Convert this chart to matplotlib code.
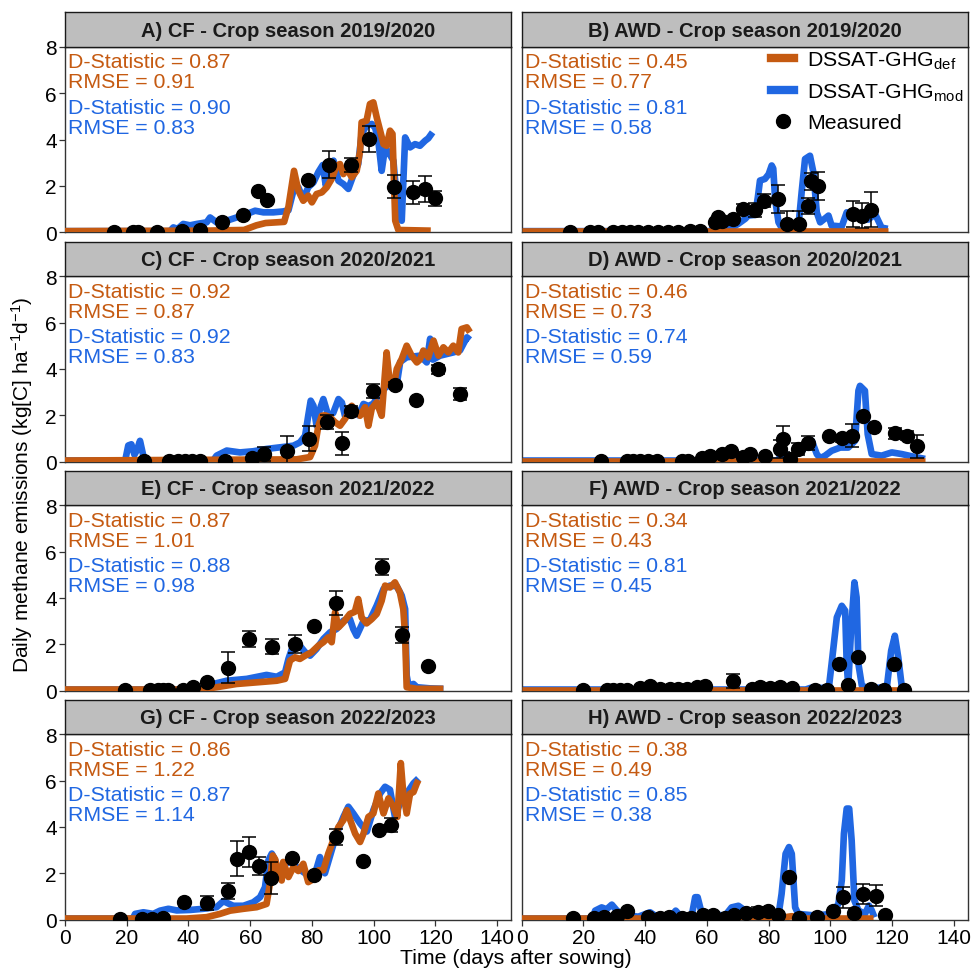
import matplotlib
matplotlib.use('Agg')
import matplotlib.pyplot as plt
from matplotlib.lines import Line2D

plt.rcParams['font.family'] = ['Liberation Sans', 'DejaVu Sans']
plt.rcParams['mathtext.fontset'] = 'custom'
plt.rcParams['mathtext.rm'] = 'Liberation Sans'
plt.rcParams['mathtext.it'] = 'Liberation Sans:italic'
plt.rcParams['mathtext.bf'] = 'Liberation Sans:bold'

ORANGE = '#C55A11'
BLUE = '#2067E2'

# ---------------- data ----------------
titles = ["A) CF - Crop season 2019/2020", "B) AWD - Crop season 2019/2020",
          "C) CF - Crop season 2020/2021", "D) AWD - Crop season 2020/2021",
          "E) CF - Crop season 2021/2022", "F) AWD - Crop season 2021/2022",
          "G) CF - Crop season 2022/2023", "H) AWD - Crop season 2022/2023"]
d_def = [0.87, 0.45, 0.92, 0.46, 0.87, 0.34, 0.86, 0.38]
rmse_def = [0.91, 0.77, 0.87, 0.73, 1.01, 0.43, 1.22, 0.49]
d_mod = [0.90, 0.81, 0.92, 0.74, 0.88, 0.81, 0.87, 0.85]
rmse_mod = [0.83, 0.58, 0.83, 0.59, 0.98, 0.45, 1.14, 0.38]

# Panel A
a_def_x = [0, 45, 58, 60, 62, 65, 71, 72.4, 74.2, 75.6, 77.2, 78.8, 80, 81.5, 83.2, 84.8, 86.4, 88, 89.1, 90.2,
           91.3, 92.9, 94.5, 95.6, 96.1, 97.7, 98.8, 99.9, 101, 102.1, 103.2, 104.2, 105.3, 106.1, 107, 108, 118.5]
a_def_y = [0.05, 0.07, 0.1, 0.2, 0.3, 0.4, 0.45, 1.1, 2.65, 1.8, 1.36, 1.58, 1.29, 1.65, 1.72, 1.94, 2.3, 2.87, 2.94, 2.51,
           2.75, 2.37, 2.65, 3.5, 4.74, 4.81, 5.53, 5.6, 4.95, 4.38, 3.8, 3.73, 4.38, 4.24, 0.5, 0.1, 0.07]
a_mod_x = [0, 34, 35.1, 36.5, 38.3, 40.5, 42.7, 45.9, 47, 49.1, 52.4, 55.6, 58.9, 61.6, 64.3, 67.5, 70.7, 72.4, 74, 75.6,
           77.2, 78.8, 80.5, 82.1, 83.5, 84.5, 85.9, 87, 88.6, 90.2, 91.8, 93.4, 95, 96.1, 97.7, 99.4, 100.5, 101.5, 102.6, 103.7,
           104.8, 106.4, 108, 109.1, 110.2, 111.8, 113.4, 115, 116.7, 117.7, 119.1]
a_mod_y = [0.05, 0.05, 0.21, 0.15, 0.36, 0.3, 0.36, 0.43, 0.64, 0.43, 0.5, 0.64, 0.79, 0.93, 0.86, 0.86, 0.9, 0.95, 1.79, 1.94,
           1.43, 1.94, 2.15, 2.6, 2.9, 2.0, 2.51, 3.09, 2.22, 2.08, 1.87, 2.45, 2.94, 4.24, 4.6, 4.67, 4.5, 3.95, 2.65, 3.66,
           3.45, 3.09, 0.64, 0.5, 4.09, 3.66, 3.8, 3.73, 3.95, 4.05, 4.31]
a_obs_x = [16.0, 22.1, 23.8, 29.9, 37.8, 43.7, 50.8, 57.8, 62.6, 65.6, 78.8, 85.6, 92.7, 98.6, 106.7, 112.9, 116.7, 119.9]
a_obs_y = [0.02, 0.02, 0.02, 0.02, 0.05, 0.1, 0.43, 0.74, 1.77, 1.41, 2.25, 2.92, 2.92, 4.02, 1.97, 1.72, 1.87, 1.46]
a_obs_e = [0, 0, 0, 0, 0, 0, 0, 0, 0, 0, 0, 0.57, 0.3, 0.55, 0.5, 0.5, 0.55, 0.33]

# Panel B
b_def_x = [0, 118.8]
b_def_y = [0.05, 0.05]
b_mod_x = [0, 61, 62.6, 64, 66, 68, 70, 72.4, 73.4, 75.6, 76.5, 77.2, 78.8, 80, 81, 81.5, 82.1, 83.2, 84.2, 89.6,
           90.7, 91.8, 93.4, 94.5, 95.6, 96.7, 98.3, 99.4, 100.4, 103.7, 105.3, 107, 108.5, 110.2, 112.3, 114.5, 116.6, 118.6]
b_mod_y = [0.05, 0.05, 0.25, 0.15, 0.3, 0.2, 0.35, 0.58, 0.72, 0.75, 1.5, 2.23, 2.3, 2.5, 2.88, 2.75, 1.44, 0.43, 0.2, 0.2,
           1.73, 3.16, 3.3, 2.59, 0.86, 0.43, 0.6, 0.72, 0.29, 0.25, 0.86, 0.7, 0.86, 0.55, 0.55, 0.79, 0.2, 0.15]
b_obs_x = [15.7, 22.1, 24.8, 29.7, 32.4, 35.1, 37.8, 41.0, 44.3, 47.5, 50.8, 54.5, 57.8, 62.6, 63.7, 64.8, 68.6, 71.6,
           75.6, 78.6, 83.0, 85.9, 89.9, 92.9, 93.7, 96.1, 107.5, 110.2, 113.2]
b_obs_y = [0.02, 0.02, 0.02, 0.02, 0.02, 0.02, 0.02, 0.02, 0.02, 0.02, 0.02, 0.06, 0.06, 0.43, 0.65, 0.5, 0.58, 1.0,
           0.98, 1.37, 1.44, 0.36, 0.36, 1.12, 2.19, 1.99, 0.79, 0.72, 0.97]
b_obs_e = [0, 0, 0, 0, 0, 0, 0, 0, 0, 0, 0, 0, 0, 0, 0, 0, 0, 0.2,
           0.3, 0.3, 0.6, 0.55, 0.55, 0.35, 0.35, 0.6, 0.55, 0.55, 0.75]

# Panel C
c_def_x = [0, 75, 79.4, 81, 82.1, 83.2, 84.3, 85.9, 87.5, 89.1, 90.7, 91.8, 92.9, 94, 95.6, 97.2, 98.3, 99.4, 101, 102.6,
           104.2, 105.3, 106.4, 107.5, 109.1, 110.7, 112.3, 114, 115, 116.1, 117.7, 119.4, 121, 122.6, 124.2, 125.8, 127.4, 128.5, 130.2, 131.2]
c_def_y = [0.05, 0.1, 0.2, 0.69, 1.55, 1.98, 2.0, 1.91, 1.7, 1.55, 1.84, 2.1, 2.41, 2.2, 1.98, 2.35, 1.55, 2.3, 2.56, 1.98,
           4.71, 3.28, 3.2, 4.0, 4.43, 5.0, 4.57, 4.28, 4.4, 4.79, 4.5, 5.22, 4.57, 4.93, 4.71, 5.0, 4.71, 5.72, 5.79, 5.58]
c_mod_x = [0, 19.5, 20.5, 21.5, 22.5, 23.3, 24.3, 25.3, 26, 48, 49.1, 52.4, 56.7, 61, 65.3, 69.7, 74, 76.1, 77.8, 78.8,
           79.6, 80.5, 81.5, 82.6, 83.7, 85.3, 86.9, 88.6, 89.7, 90.7, 92.4, 94, 95.1, 96.7, 98.3, 99.9, 101.5, 103.2, 105, 107.5,
           108.6, 110.7, 115, 117.2, 118.3, 119.2, 121.5, 125.8, 128, 130.2, 131.2]
c_mod_y = [0.05, 0.05, 0.7, 0.75, 0.3, 0.5, 0.9, 0.3, 0.05, 0.05, 0.26, 0.48, 0.4, 0.45, 0.55, 0.62, 0.69, 0.83, 1.12, 1.98,
           2.63, 2.41, 1.55, 2.27, 2.7, 1.98, 2.1, 2.7, 2.55, 1.98, 2.0, 2.27, 2.0, 2.49, 2.4, 2.5, 2.85, 3.13, 3.3, 3.35,
           4.3, 4.5, 4.57, 4.28, 5.3, 4.4, 4.57, 4.71, 4.8, 5.36, 5.25]
c_obs_x = [25.7, 33.8, 36.7, 38.9, 41.0, 43.7, 51.8, 60.7, 64.6, 71.8, 78.9, 84.8, 89.6, 92.7, 99.7, 106.9, 113.7, 120.8, 128.0]
c_obs_y = [0.02, 0.02, 0.02, 0.02, 0.02, 0.02, 0.04, 0.18, 0.33, 0.47, 1.0, 1.72, 0.79, 2.19, 3.06, 3.32, 2.67, 3.98, 2.91]
c_obs_e = [0, 0, 0, 0, 0, 0, 0, 0, 0.3, 0.65, 0.55, 0.3, 0.5, 0.2, 0.3, 0.1, 0, 0.2, 0.25]

# Panel D
d_def_x = [0, 130.7]
d_def_y = [0.05, 0.05]
d_mod_x = [0, 83, 84.2, 87.5, 90.7, 94, 95.6, 96.7, 98.3, 100.4, 103.2, 105.8, 108, 109.1, 109.6, 111.2, 112.1, 113.4,
           116.6, 119.9, 123.1, 127.5, 130.7]
d_mod_y = [0.05, 0.05, 0.33, 0.26, 0.47, 0.9, 0.33, 0.15, 0.26, 0.47, 0.61, 0.61, 0.9, 3.06, 3.27, 3.06, 1.19, 0.33,
           0.26, 0.4, 0.33, 0.2, 0.12]
d_obs_x = [25.7, 34.0, 36.2, 38.3, 41.0, 43.7, 51.8, 54.0, 58.3, 61.0, 64.8, 67.8, 71.8, 74.0, 78.8, 83.7, 84.6, 87.0,
           89.6, 92.9, 99.6, 103.7, 107.0, 110.7, 114.0, 120.8, 124.7, 128.0]
d_obs_y = [0.03, 0.03, 0.03, 0.03, 0.03, 0.03, 0.03, 0.03, 0.18, 0.25, 0.33, 0.47, 0.21, 0.33, 0.25, 0.54, 0.97, 0.11,
           0.54, 0.79, 1.12, 1.02, 1.12, 1.98, 1.51, 1.22, 1.12, 0.66]
d_obs_e = [0, 0, 0, 0, 0, 0, 0, 0, 0, 0, 0, 0, 0, 0, 0, 0.4, 0.55, 0,
           0.25, 0.3, 0, 0.15, 0.5, 0, 0, 0.25, 0.2, 0.5]

# Panel E
e_def_x = [0, 44, 49.1, 55.6, 62.1, 68.6, 71.3, 72.9, 74.5, 76.1, 77.8, 79.9, 82.1, 83.7, 85.3, 86.4, 87.5, 88.6, 90.2, 92.3,
           93.9, 95, 96.1, 97.7, 99.4, 101, 102.6, 103.7, 105.3, 106.9, 108.5, 109.6, 110.2, 110.7, 114, 122.6]
e_def_y = [0.05, 0.05, 0.15, 0.29, 0.36, 0.43, 0.51, 1.3, 1.44, 1.37, 1.51, 1.66, 1.94, 2.09, 2.3, 2.09, 3.38, 2.73, 2.95, 3.31,
           3.4, 3.95, 3.16, 2.9, 3.09, 3.31, 3.88, 4.53, 4.45, 4.67, 4.24, 3.52, 2.37, 0.15, 0.08, 0.08]
e_mod_x = [0, 43.7, 45.9, 52.4, 58.9, 65.3, 68.6, 71.3, 72.4, 73.5, 76.1, 77.8, 79.4, 81.5, 83.7, 85.9, 88, 90.2, 92.3, 93.4,
           94.5, 96.7, 98.8, 101, 103.2, 105.3, 107.5, 109.1, 110.2, 110.7, 111.3, 112.9, 114, 118.3, 122.6]
e_mod_y = [0.05, 0.05, 0.22, 0.43, 0.51, 0.68, 0.6, 0.79, 1.37, 1.8, 1.94, 1.66, 1.51, 1.8, 2.23, 2.52, 2.66, 3.02, 3.09, 2.66,
           2.37, 3.0, 3.05, 3.67, 4.39, 4.53, 4.5, 4.1, 3.52, 0.65, 0.22, 0.29, 0.15, 0.1, 0.08]
e_obs_x = [19.4, 27.5, 30.2, 31.9, 33.5, 38.3, 41.6, 45.9, 52.7, 59.7, 67.0, 74.5, 80.7, 87.7, 102.8, 109.1, 117.7]
e_obs_y = [0.02, 0.02, 0.02, 0.02, 0.02, 0.03, 0.17, 0.36, 1.0, 2.23, 1.9, 2.01, 2.77, 3.78, 5.32, 2.41, 1.05]
e_obs_e = [0, 0, 0, 0, 0, 0, 0, 0, 0.67, 0.33, 0.33, 0.4, 0, 0.5, 0.35, 0.35, 0]

# Panel F
f_def_x = [0, 124.2]
f_def_y = [0.05, 0.05]
f_mod_x = [0, 92, 93.5, 99.5, 100.4, 102.1, 103.7, 104.8, 105.3, 105.8, 106.7, 107.8, 108.5, 109.1, 110.2, 112.3,
           118.3, 119.7, 120.9, 122, 123.1, 124.2]
f_mod_y = [0.05, 0.05, 0.12, 0.12, 1.15, 3.16, 3.66, 3.45, 1.15, 0.22, 2.59, 4.67, 4.02, 1.15, 0.22, 0.1,
           0.15, 1.72, 2.37, 1.44, 0.22, 0.05]
f_obs_x = [20.0, 27.5, 29.7, 31.9, 34.0, 38.3, 41.6, 44.8, 48.0, 50.8, 53.5, 56.7, 59.4, 68.6, 74.5, 77.2, 80.5, 83.7,
           87.5, 95.1, 98.8, 102.8, 105.8, 108.8, 113.2, 117.5, 120.6, 123.7]
f_obs_y = [0.02, 0.02, 0.02, 0.02, 0.02, 0.1, 0.2, 0.06, 0.06, 0.06, 0.06, 0.14, 0.2, 0.43, 0.06, 0.17, 0.1, 0.17,
           0.1, 0.02, 0.02, 1.15, 0.26, 1.44, 0.06, 0.02, 1.15, 0.02]
f_obs_e = [0, 0, 0, 0, 0, 0, 0, 0, 0, 0, 0, 0, 0.1, 0.3, 0, 0, 0, 0,
           0, 0, 0, 0, 0, 0, 0, 0, 0, 0]

# Panel G
g_def_x = [0, 39.4, 45.9, 50.2, 53.5, 57.8, 62.1, 65.3, 66.4, 67.3, 68.1, 69.1, 70.2, 70.7, 72.4, 74, 75.6, 77.2, 78.8, 80.5,
           82.1, 83.7, 85.3, 86.9, 88.6, 90.2, 91.3, 92.4, 94, 95.6, 96.7, 98.3, 99.9, 101.5, 103.2, 104.8, 106.4, 107.7, 108.8, 109.6,
           110.7, 111.8, 112.9, 114, 114.5]
g_def_y = [0.05, 0.05, 0.11, 0.25, 0.39, 0.47, 0.54, 0.68, 1.55, 2.77, 2.6, 1.98, 1.69, 2.49, 1.84, 2.27, 2.1, 2.41, 1.62, 1.75,
           2.13, 2.13, 2.85, 3.42, 4.0, 4.29, 4.72, 4.3, 3.71, 3.35, 3.71, 4.43, 4.58, 5.44, 4.58, 5.23, 4.87, 4.43, 6.75, 5.44,
           4.58, 5.44, 5.5, 5.88, 6.02]
g_mod_x = [0, 22, 22.7, 25.4, 28.6, 30.8, 33.5, 36.2, 40.5, 44.8, 49.1, 51.3, 54.5, 57.8, 61, 63.2, 64.8, 65.9, 67, 68.1,
           69.7, 71.3, 73.4, 75.6, 77.8, 79.9, 81.5, 82.6, 84.2, 86.4, 88, 90.2, 91.8, 93.4, 95.6, 97.8, 99.9, 102.1, 103.7, 105.3,
           106.9, 108.5, 110.7, 112.9, 114.5]
g_mod_y = [0.05, 0.05, 0.25, 0.32, 0.25, 0.39, 0.47, 0.4, 0.42, 0.47, 0.54, 0.8, 0.6, 0.6, 0.75, 0.97, 1.4, 2.56, 2.85, 2.56,
           1.84, 2.42, 2.5, 2.2, 2.0, 1.84, 2.2, 2.7, 2.0, 2.99, 3.71, 4.43, 4.87, 4.58, 4.15, 3.8, 4.72, 5.44, 5.73, 5.6,
           4.43, 5.01, 5.44, 5.88, 6.09]
g_obs_x = [17.8, 24.8, 28.1, 31.6, 38.7, 45.9, 52.9, 55.8, 59.7, 62.9, 66.8, 73.7, 80.7, 87.7, 96.7, 101.8, 105.6]
g_obs_y = [0.03, 0.03, 0.03, 0.07, 0.78, 0.71, 1.23, 2.63, 2.92, 2.31, 1.79, 2.66, 1.91, 3.56, 2.51, 3.85, 4.07]
g_obs_e = [0, 0, 0, 0, 0, 0.3, 0.35, 0.75, 0.65, 0.4, 0.7, 0, 0, 0.35, 0, 0, 0.3]

# Panel H
h_def_x = [0, 84, 86, 87.5, 89, 91, 114]
h_def_y = [0.05, 0.05, 0.12, 0.15, 0.1, 0.05, 0.05]
h_mod_x = [0, 23, 23.8, 25.9, 27.5, 29.2, 30.8, 32.4, 34.6, 37.8, 41.6, 43.2, 48.6, 49.9, 51.3, 55.1, 56.2, 57, 58.1, 59.9,
           65.9, 68, 70.2, 71.8, 73.4, 83.2, 84.2, 85.5, 86.6, 87.5, 88.6, 89.6, 95.1, 100.4, 102.6, 103.7, 104.4, 105.3, 106.1, 106.9,
           107.8, 109.1, 111.2, 112.5, 113.4, 114.3]
h_mod_y = [0.05, 0.05, 0.39, 0.53, 0.45, 0.65, 0.4, 0.25, 0.18, 0.13, 0.32, 0.18, 0.18, 0.39, 0.18, 0.18, 0.97, 0.97, 0.39, 0.25,
           0.18, 0.53, 0.6, 0.45, 0.18, 0.2, 1.11, 2.84, 3.13, 2.84, 0.53, 0.25, 0.18, 0.25, 0.68, 1.69, 3.71, 4.79, 4.79, 3.42,
           0.82, 0.4, 0.25, 0.61, 0.4, 0.1]
h_obs_x = [16.7, 23.5, 26.8, 30.8, 34.0, 40.8, 44.8, 47.8, 51.8, 54.9, 58.9, 62.1, 65.9, 68.8, 72.6, 76.7, 79.9, 83.2,
           86.7, 89.9, 95.8, 101.0, 104.0, 107.8, 110.7, 114.7, 117.7]
h_obs_y = [0.07, 0.07, 0.13, 0.17, 0.36, 0.1, 0.07, 0.1, 0.07, 0.07, 0.22, 0.22, 0.07, 0.22, 0.28, 0.35, 0.39, 0.22,
           1.83, 0.07, 0.1, 0.39, 0.97, 0.29, 1.11, 1.04, 0.22]
h_obs_e = [0, 0, 0, 0, 0, 0, 0, 0, 0, 0, 0, 0, 0, 0, 0, 0.2, 0, 0,
           0, 0, 0, 0, 0.45, 0, 0.45, 0.45, 0]

x_ticks = [0, 20, 40, 60, 80, 100, 120, 140]
y_ticks = [0, 2, 4, 6, 8]

panels = [
    (a_def_x, a_def_y, a_mod_x, a_mod_y, a_obs_x, a_obs_y, a_obs_e),
    (b_def_x, b_def_y, b_mod_x, b_mod_y, b_obs_x, b_obs_y, b_obs_e),
    (c_def_x, c_def_y, c_mod_x, c_mod_y, c_obs_x, c_obs_y, c_obs_e),
    (d_def_x, d_def_y, d_mod_x, d_mod_y, d_obs_x, d_obs_y, d_obs_e),
    (e_def_x, e_def_y, e_mod_x, e_mod_y, e_obs_x, e_obs_y, e_obs_e),
    (f_def_x, f_def_y, f_mod_x, f_mod_y, f_obs_x, f_obs_y, f_obs_e),
    (g_def_x, g_def_y, g_mod_x, g_mod_y, g_obs_x, g_obs_y, g_obs_e),
    (h_def_x, h_def_y, h_mod_x, h_mod_y, h_obs_x, h_obs_y, h_obs_e),
]

# ---------------- layout ----------------
W, H = 971, 970
fig = plt.figure(figsize=(W / 100, H / 100), dpi=100)
col_x0 = [65, 521.7]
col_w = 446
row_bottom = [233.3, 462.7, 691.7, 920.7]
plot_h = 185.6
strip_h = 34.4
LW = 4.8

for i, (dx, dy, mx, my, ox, oy, oe) in enumerate(panels):
    r, c = divmod(i, 2)
    x0 = col_x0[c]
    yb = row_bottom[r]
    ax = fig.add_axes([x0 / W, 1 - yb / H, col_w / W, plot_h / H])
    sax = fig.add_axes([x0 / W, 1 - (yb - plot_h) / H, col_w / W, strip_h / H])

    # strip
    sax.set_facecolor('#BEBEBE')
    sax.set_xticks([])
    sax.set_yticks([])
    for s in sax.spines.values():
        s.set_color('#1a1a1a')
        s.set_linewidth(1.0)
    sax.text(0.5, 0.47, titles[i], transform=sax.transAxes, ha='center', va='center',
             fontsize=14.5, fontweight='bold', color='#1a1a1a')

    # data
    ax.plot(mx, my, color=BLUE, lw=LW, solid_joinstyle='round', solid_capstyle='butt', zorder=2)
    ax.plot(dx, dy, color=ORANGE, lw=LW, solid_joinstyle='round', solid_capstyle='butt', zorder=3)
    ax.errorbar(ox, oy, yerr=oe, fmt='o', color='black', ms=10, capsize=5,
                elinewidth=1.1, capthick=1.1, zorder=4)

    ax.set_xlim(0, 144.5)
    ax.set_ylim(0, 8)
    ax.set_xticks(x_ticks)
    ax.set_yticks(y_ticks)
    ax.tick_params(axis='both', labelsize=15, length=4, width=0.9, color='#333333',
                   labelcolor='black', pad=2)
    if c != 0:
        ax.tick_params(axis='y', left=False, labelleft=False)
    if r != 3:
        ax.tick_params(axis='x', bottom=False, labelbottom=False)
    for s in ax.spines.values():
        s.set_color('#333333')
        s.set_linewidth(1.0)

    # statistics text
    ax.text(0.007, 0.889, f"D-Statistic = {d_def[i]:.2f}", transform=ax.transAxes,
            color=ORANGE, fontsize=15.3, va='baseline', ha='left')
    ax.text(0.007, 0.781, f"RMSE = {rmse_def[i]:.2f}", transform=ax.transAxes,
            color=ORANGE, fontsize=15.3, va='baseline', ha='left')
    ax.text(0.007, 0.643, f"D-Statistic = {d_mod[i]:.2f}", transform=ax.transAxes,
            color=BLUE, fontsize=15.3, va='baseline', ha='left')
    ax.text(0.007, 0.535, f"RMSE = {rmse_mod[i]:.2f}", transform=ax.transAxes,
            color=BLUE, fontsize=15.3, va='baseline', ha='left')

    if i == 1:
        handles = [Line2D([], [], color=ORANGE, lw=6),
                   Line2D([], [], color=BLUE, lw=6),
                   Line2D([], [], color='black', marker='o', ms=10, linestyle='none')]
        labels = ['DSSAT-GHG$_{\\mathrm{def}}$', 'DSSAT-GHG$_{\\mathrm{mod}}$', 'Measured']
        ax.legend(handles, labels, loc='upper right', frameon=False, fontsize=15.3,
                  handlelength=1.1, handletextpad=0.6, labelspacing=0.5,
                  borderaxespad=0.0, bbox_to_anchor=(1.01, 1.03))

fig.text(22 / W, 1 - 485 / H, 'Daily methane emissions (kg[C] ha$^{-1}$d$^{-1}$)',
         rotation=90, ha='center', va='center', fontsize=15)
fig.text(516 / W, 1 - 959 / H, 'Time (days after sowing)', ha='center', va='center', fontsize=15.3)

fig.savefig('out.png', dpi=100)
